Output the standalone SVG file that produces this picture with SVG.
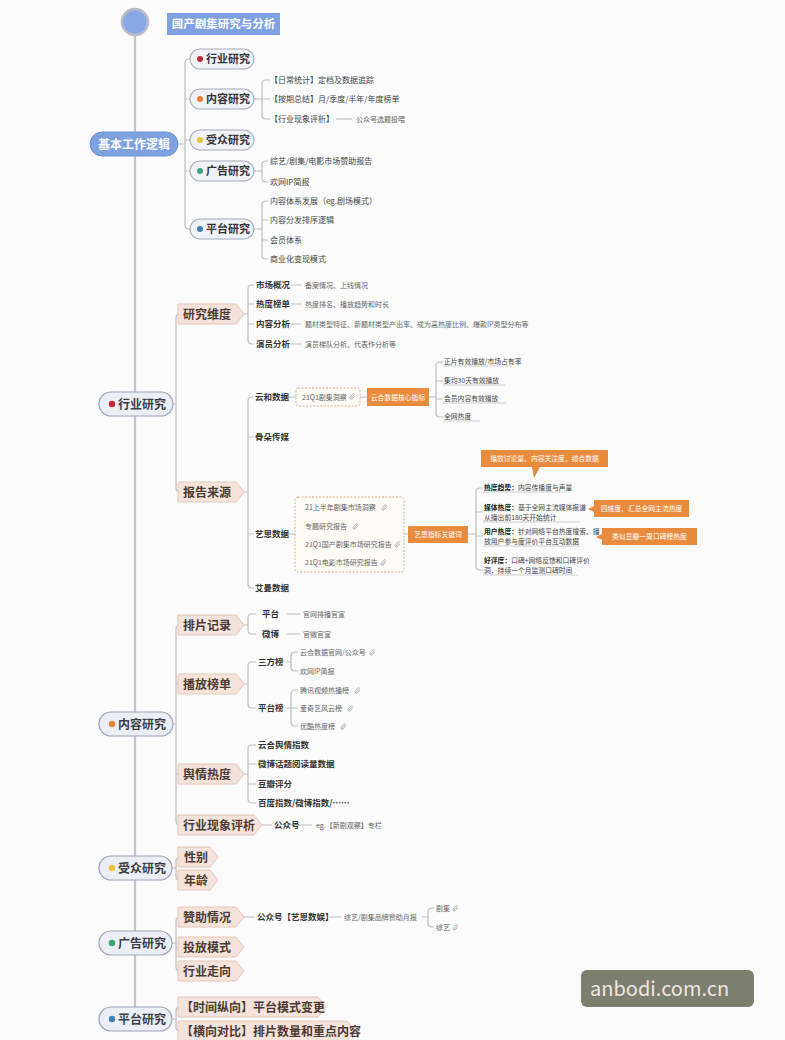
<svg xmlns="http://www.w3.org/2000/svg" width="785" height="1040" viewBox="0 0 785 1040">
<style>
text{font-family:"Noto Sans CJK SC","Noto Sans",sans-serif;}
.ln{fill:none;stroke:#bdbdbd;stroke-width:1.2;}
.sp{fill:none;stroke:#c4c4c4;stroke-width:2.2;}
.l1{fill:#eceef5;stroke:#9ea3b8;stroke-width:1.2;}
.l1t{font-size:12px;fill:#3d3d45;font-weight:bold;}
.sub{fill:#f1f2f7;stroke:#a3a8bb;stroke-width:1.1;}
.subt{font-size:11px;fill:#333;font-weight:bold;}
.tag{fill:#f5e3db;stroke:#e3c7ba;stroke-width:1;}
.tagt{font-size:12px;fill:#4a3a34;font-weight:bold;}
.k{font-size:8.5px;fill:#333;font-weight:bold;}
.d{font-size:7px;fill:#666;}
.s{font-size:8px;fill:#444;}
.x{font-size:6.8px;fill:#444;}
.ob{fill:#e98b3d;}
.obt{font-size:6.8px;fill:#fff;}
.db{fill:#fdfbf6;stroke:#d6b088;stroke-width:1;stroke-dasharray:2 1.5;}
.ul{fill:none;stroke:#c9c9c9;stroke-width:0.9;}
</style>
<defs>
<symbol id="lnk" viewBox="0 0 8 8"><path d="M2 6.5 L6 2.2 A1 1 0 0 0 4.6 0.9 L1.3 4.7 A1.6 1.6 0 0 0 3.6 6.8 L6.6 3.4" fill="none" stroke="#999" stroke-width="0.8"/></symbol>
</defs>
<rect width="785" height="1040" fill="#fafbfa"/>

<g id="connectors">
<path class="sp" d="M135 35 V1007"/>
<path class="ln" d="M178 144 H185 M185 63 V225 M185 63 Q185 59 189 59 H190 M185 99 H190 M185 140 H190 M185 171 H190 M185 225 Q185 229 189 229 H190"/>
<path class="ln" d="M254 99 H262 M262 84 V115 M262 84 Q262 80 266 80 H270 M262 99 H270 M262 115 Q262 119 266 119 H270"/>
<path class="ln" d="M336 119 H352"/>
<path class="ln" d="M254 171 H262 M262 165 V178 M262 165 Q262 161 266 161 H268 M262 178 Q262 182 266 182 H268"/>
<path class="ln" d="M254 229 H262 M262 205 V255 M262 205 Q262 201 266 201 H268 M262 220 H268 M262 240 H268 M262 255 Q262 259 266 259 H268"/>
<path class="ln" d="M173 404 H176 M176 318 V488 M176 318 Q176 314 180 314 M176 488 Q176 492 180 492"/>
<path class="ln" d="M244 314 H248 M248 289 V340 M248 289 Q248 285 252 285 H254 M248 304 H254 M248 324 H254 M248 340 Q248 344 252 344 H254"/>
<path class="ln" d="M291 285 H301 M291 304 H301 M291 324 H301 M291 344 H301"/>
<path class="ln" d="M244 492 H248 M248 401 V584 M248 401 Q248 397 252 397 H254 M248 437 H254 M248 534 H254 M248 584 Q248 588 252 588 H254"/>
<path class="ln" d="M288 397 H296 M360 397 H367 M429 397 H436 M436 366 V413 M436 366 Q436 362 440 362 H443 M436 381 H443 M436 399 H443 M436 413 Q436 417 440 417 H443"/>
<path class="ul" d="M443 366 H512 M443 385 H505 M443 403 H506 M443 421 H480"/>
<path class="ln" d="M288 534 H295 M300 511 V558 M300 511 Q300 507 304 507 M300 526 H304 M300 544 H304 M300 558 Q300 562 304 562 M404 534 H408 M468 534 H476 M476 492 V566 M476 492 Q476 488 480 488 H483 M476 512 H483 M476 536 H483 M476 566 Q476 570 480 570 H483"/>
<path class="ul" d="M483 492 H567 M483 522 H580 M483 546 H580 M483 575 H578"/>
<path class="ln" d="M173 724 H176 M176 629 V821 M176 629 Q176 625 180 625 M176 684 H178 M176 774 H178 M176 821 Q176 825 180 825"/>
<path class="ln" d="M244 625 H248 M248 618 V630 M248 618 Q248 614 252 614 H256 M248 630 Q248 634 252 634 H256"/>
<path class="ln" d="M287 614 H300 M287 634 H300"/>
<path class="ln" d="M244 684 H248 M248 666 V704 M248 666 Q248 662 252 662 H256 M248 704 Q248 708 252 708 H256"/>
<path class="ln" d="M286 662 H291 M291 656 V667 M291 656 Q291 652 295 652 H298 M291 667 Q291 671 295 671 H298"/>
<path class="ln" d="M286 708 H291 M291 694 V722 M291 694 Q291 690 295 690 H298 M291 708 H298 M291 722 Q291 726 295 726 H298"/>
<path class="ln" d="M244 774 H248 M248 749 V799 M248 749 Q248 745 252 745 H256 M248 764 H256 M248 784 H256 M248 799 Q248 803 252 803 H256"/>
<path class="ln" d="M262 825 H272 M298 825 H312"/>
<path class="ln" d="M172 868 H176 M176 861 V876 M176 861 Q176 857 180 857 M176 876 Q176 880 180 880"/>
<path class="ln" d="M172 943 H176 M176 921 V967 M176 921 Q176 917 180 917 M176 947 H178 M176 967 Q176 971 180 971"/>
<path class="ln" d="M244 917 H255 M329 917 H341 M422 917 H428 M428 912 V923 M428 912 Q428 908 432 908 H434 M428 923 Q428 927 432 927 H434"/>
<path class="ln" d="M172 1019 H176 M176 1011 V1027 M176 1011 Q176 1007 180 1007 M176 1027 Q176 1031 180 1031"/>
</g>

<g id="root">
<circle cx="135" cy="22" r="13" fill="#88a8e6" stroke="#b9bcc6" stroke-width="2.5"/>
<rect x="167" y="13" width="113" height="22" fill="#7ea1e2"/>
<text x="223.5" y="28" text-anchor="middle" font-size="11.5" font-weight="bold" fill="#fff">国产剧集研究与分析</text>
</g>

<g id="n-basic">
<rect x="90" y="132" width="88" height="24" rx="12" fill="#7ea1e2" stroke="#6d91d6"/>
<text x="134" y="148.5" text-anchor="middle" font-size="12" font-weight="bold" fill="#fff">基本工作逻辑</text>
</g>
<g id="b-hy"><rect x="190" y="49" width="64" height="20" rx="10" class="sub"/><circle cx="200" cy="59" r="3" fill="#c0283a"/><text x="206" y="63" class="subt">行业研究</text></g>
<g id="b-nr"><rect x="190" y="89" width="64" height="20" rx="10" class="sub"/><circle cx="200" cy="99" r="3" fill="#e9803a"/><text x="206" y="103" class="subt">内容研究</text>
<text x="270" y="83" class="s">【日常统计】定档及数据追踪</text>
<text x="270" y="102" class="s">【按期总结】月/季度/半年/年度榜单</text>
<text x="270" y="122" class="s">【行业现象评析】</text>
<text x="356" y="122" class="d">公众号选题投喂</text></g>
<g id="b-sz"><rect x="190" y="130" width="64" height="20" rx="10" class="sub"/><circle cx="200" cy="140" r="3" fill="#eac23c"/><text x="206" y="144" class="subt">受众研究</text></g>
<g id="b-gg"><rect x="190" y="161" width="64" height="20" rx="10" class="sub"/><circle cx="200" cy="171" r="3" fill="#3aa37a"/><text x="206" y="175" class="subt">广告研究</text>
<text x="270" y="164" class="s">综艺/剧集/电影市场赞助报告</text>
<text x="270" y="185" class="s">欢网IP简报</text></g>
<g id="b-pt"><rect x="190" y="219" width="64" height="20" rx="10" class="sub"/><circle cx="200" cy="229" r="3" fill="#3c7fb8"/><text x="206" y="233" class="subt">平台研究</text>
<text x="270" y="204" class="s">内容体系发展（eg.剧场模式）</text>
<text x="270" y="223" class="s">内容分发排序逻辑</text>
<text x="270" y="243" class="s">会员体系</text>
<text x="270" y="262" class="s">商业化变现模式</text></g>

<g id="n-hy">
<rect x="99" y="392" width="74" height="24" rx="12" class="l1"/>
<circle cx="112" cy="404" r="3.2" fill="#c0283a"/>
<text x="118" y="408.5" class="l1t">行业研究</text>
</g>
<g id="t-yjwd"><path class="tag" d="M178 304 H236 L244 314 L236 324 H178 Z"/><text x="183" y="318.5" class="tagt">研究维度</text>
<text x="256" y="288" class="k">市场概况</text><text x="305" y="288" class="d">备案情况、上线情况</text>
<text x="256" y="307" class="k">热度榜单</text><text x="305" y="307" class="d">热度排名、播放趋势和时长</text>
<text x="256" y="327" class="k">内容分析</text><text x="305" y="327" class="d">题材类型特征、新题材类型产出率、成为高热度比例、爆款IP类型分布等</text>
<text x="256" y="347" class="k">演员分析</text><text x="305" y="347" class="d">演员梯队分析、代表作分析等</text></g>
<g id="t-bgly"><path class="tag" d="M178 482 H236 L244 492 L236 502 H178 Z"/><text x="183" y="496.5" class="tagt">报告来源</text></g>
<g id="s-yh"><text x="255" y="400" class="k">云和数据</text>
<rect x="296" y="388" width="64" height="18" rx="2" class="db"/><text x="302" y="400" class="d">21Q1剧集洞察</text><use href="#lnk" x="349" y="393" width="7" height="7"/>
<rect x="367" y="388" width="62" height="18" class="ob"/><text x="398" y="399.5" text-anchor="middle" class="obt">云合数据核心指标</text>
<text x="444" y="364" class="x">正片有效播放/市场占有率</text>
<text x="444" y="383" class="x">集均30天有效播放</text>
<text x="444" y="401" class="x">会员内容有效播放</text>
<text x="444" y="419" class="x">全网热度</text></g>
<g id="s-gd"><text x="255" y="440" class="k">骨朵传媒</text></g>
<g id="s-ye"><text x="255" y="537" class="k">艺恩数据</text>
<rect x="295" y="497" width="109" height="75" rx="3" class="db"/>
<text x="305" y="510" class="d">21上半年剧集市场洞察</text><use href="#lnk" x="381" y="504" width="7" height="7"/>
<text x="305" y="529" class="d">专题研究报告</text><use href="#lnk" x="352" y="523" width="7" height="7"/>
<text x="305" y="547" class="d">21Q1国产剧集市场研究报告</text><use href="#lnk" x="394" y="541" width="7" height="7"/>
<text x="305" y="565" class="d">21Q1电影市场研究报告</text><use href="#lnk" x="380" y="559" width="7" height="7"/>
<rect x="408" y="526" width="60" height="17" class="ob"/><text x="438" y="537" text-anchor="middle" class="obt">艺恩指标关键词</text>
<path class="ob" d="M481 450 H608 V467 H540 L534 478 L532 467 H481 Z"/><text x="544.5" y="461" text-anchor="middle" class="obt">播放讨论量、内容关注度、综合数据</text>
<text x="484" y="490" class="x"><tspan font-weight="bold" fill="#222">热度趋势：</tspan>内容传播度与声量</text>
<text x="484" y="510" class="x"><tspan font-weight="bold" fill="#222">媒体热度：</tspan>基于全网主流媒体报道</text>
<text x="484" y="519.5" class="x">从播出前180天开始统计</text>
<path class="ob" d="M594 500 H689 V517 H594 V512 L588 509 L594 506 Z"/><text x="641.5" y="511" text-anchor="middle" class="obt">四维度、汇总全网主流热度</text>
<text x="484" y="534" class="x"><tspan font-weight="bold" fill="#222">用户热度：</tspan>针对网络平台热度搜索、播</text>
<text x="484" y="543.5" class="x">放用户参与度评价平台互动数据</text>
<path class="ob" d="M602 528 H697 V545 H602 V540 L596 537 L602 534 Z"/><text x="649.5" y="539" text-anchor="middle" class="obt">类似豆瓣一周口碑榜热度</text>
<text x="484" y="563" class="x"><tspan font-weight="bold" fill="#222">好评度：</tspan>口碑+网络反馈和口碑评价</text>
<text x="484" y="572.5" class="x">洞，持续一个月监测口碑时间</text></g>
<g id="s-am"><text x="255" y="591" class="k">艾曼数据</text></g>

<g id="n-nr">
<rect x="99" y="712" width="74" height="24" rx="12" class="l1"/>
<circle cx="112" cy="724" r="3.2" fill="#e9803a"/>
<text x="118" y="728.5" class="l1t">内容研究</text>
</g>
<g id="t-ppjl"><path class="tag" d="M178 615 H236 L244 625 L236 635 H178 Z"/><text x="183" y="629.5" class="tagt">排片记录</text>
<text x="262" y="617" class="k">平台</text><text x="303" y="617" class="d">官网排播官宣</text>
<text x="262" y="637" class="k">微博</text><text x="303" y="637" class="d">官微官宣</text></g>
<g id="t-bfbd"><path class="tag" d="M178 674 H236 L244 684 L236 694 H178 Z"/><text x="183" y="688.5" class="tagt">播放榜单</text>
<text x="258" y="665" class="k">三方榜</text>
<text x="300" y="655" class="d">云合数据官网/公众号</text><use href="#lnk" x="369" y="649" width="7" height="7"/>
<text x="300" y="674" class="d">欢网IP简报</text>
<text x="258" y="711" class="k">平台榜</text>
<text x="300" y="693" class="d">腾讯视频热播榜</text><use href="#lnk" x="354" y="687" width="7" height="7"/>
<text x="300" y="711" class="d">爱奇艺风云榜</text><use href="#lnk" x="347" y="705" width="7" height="7"/>
<text x="300" y="729" class="d">优酷热度榜</text><use href="#lnk" x="340" y="723" width="7" height="7"/></g>
<g id="t-yqrd"><path class="tag" d="M178 764 H236 L244 774 L236 784 H178 Z"/><text x="183" y="778.5" class="tagt">舆情热度</text>
<text x="258" y="748" class="k">云合舆情指数</text>
<text x="258" y="767" class="k">微博话题阅读量数据</text>
<text x="258" y="787" class="k">豆瓣评分</text>
<text x="258" y="806" class="k">百度指数/微博指数/……</text></g>
<g id="t-hyxx"><path class="tag" d="M178 815 H254 L262 825 L254 835 H178 Z"/><text x="183" y="829.5" class="tagt">行业现象评析</text>
<text x="274" y="828" class="k">公众号</text><text x="316" y="828" class="d">eg.【新剧观察】专栏</text></g>

<g id="n-sz">
<rect x="99" y="856" width="73" height="24" rx="12" class="l1"/>
<circle cx="112" cy="868" r="3.2" fill="#eac23c"/>
<text x="118" y="872.5" class="l1t">受众研究</text>
</g>
<g id="t-xb"><path class="tag" d="M178 847 H210 L218 857 L210 867 H178 Z"/><text x="184" y="861.5" class="tagt">性别</text></g>
<g id="t-nl"><path class="tag" d="M178 870 H210 L218 880 L210 890 H178 Z"/><text x="184" y="884.5" class="tagt">年龄</text></g>

<g id="n-gg">
<rect x="99" y="931" width="73" height="24" rx="12" class="l1"/>
<circle cx="112" cy="943" r="3.2" fill="#3aa37a"/>
<text x="118" y="947.5" class="l1t">广告研究</text>
</g>
<g id="t-zzqk"><path class="tag" d="M178 907 H236 L244 917 L236 927 H178 Z"/><text x="183" y="921.5" class="tagt">赞助情况</text>
<text x="257" y="920" class="k">公众号【艺恩数娱】</text>
<text x="344" y="920" class="d">综艺/剧集品牌赞助月报</text>
<text x="436" y="911" class="d">剧集</text><use href="#lnk" x="452" y="905" width="7" height="7"/>
<text x="436" y="930" class="d">综艺</text><use href="#lnk" x="452" y="924" width="7" height="7"/></g>
<g id="t-tfms"><path class="tag" d="M178 937 H236 L244 947 L236 957 H178 Z"/><text x="183" y="951.5" class="tagt">投放模式</text></g>
<g id="t-hyzx"><path class="tag" d="M178 961 H236 L244 971 L236 981 H178 Z"/><text x="183" y="975.5" class="tagt">行业走向</text></g>

<g id="n-pt">
<rect x="99" y="1007" width="73" height="24" rx="12" class="l1"/>
<circle cx="112" cy="1019" r="3.2" fill="#3c7fb8"/>
<text x="118" y="1023.5" class="l1t">平台研究</text>
</g>
<g id="t-sjzx"><path class="tag" d="M178 997 H318 L326 1007 L318 1017 H178 Z"/><text x="181" y="1011.5" class="tagt" font-size="11.5">【时间纵向】平台模式变更</text></g>
<g id="t-hxdb"><path class="tag" d="M178 1021 H347 L355 1031 L347 1041 H178 Z"/><text x="181" y="1035.5" class="tagt" font-size="11.5">【横向对比】排片数量和重点内容</text></g>

<g id="watermark">
<rect x="581" y="970" width="173" height="37" rx="6" fill="#7d7f6e"/>
<text x="590" y="996" font-family="Open Sans, sans-serif" font-size="20" fill="#efe6e4">anbodi.com.cn</text>
</g>
</svg>
